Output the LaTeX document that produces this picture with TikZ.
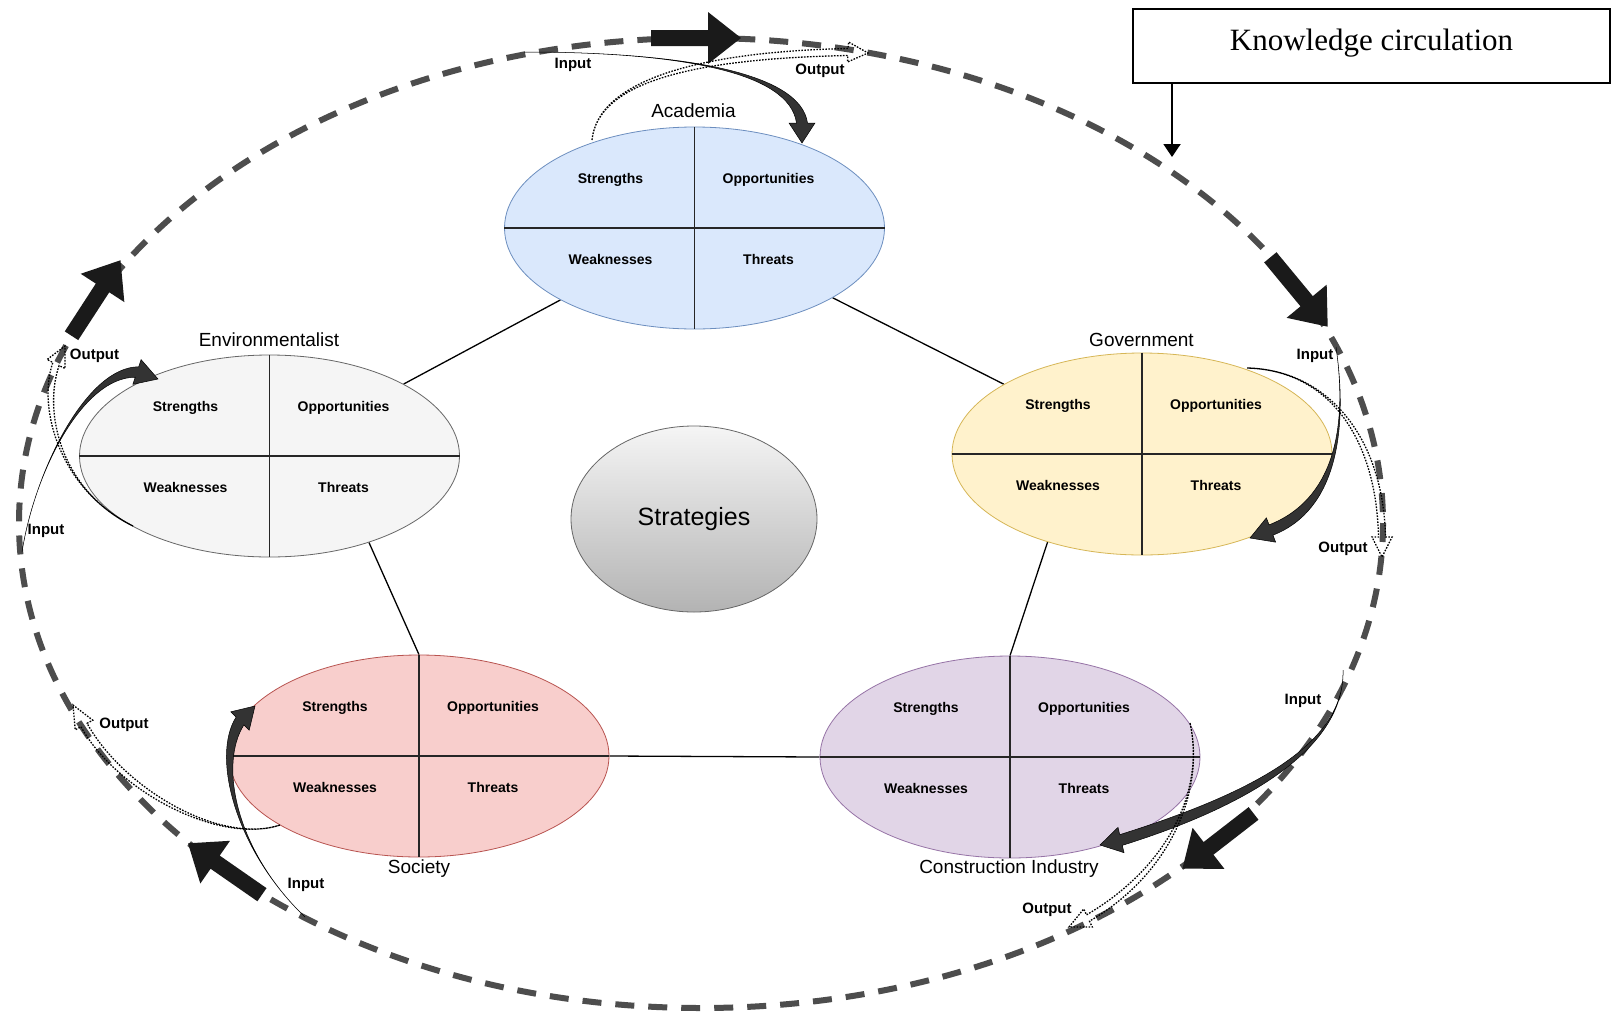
\documentclass[tikz,border=0pt]{standalone}
\usepackage{fontspec}
\setmainfont{Liberation Sans}
\newfontfamily\kcserif{Liberation Serif}
\usetikzlibrary{shapes.geometric,calc,arrows.meta,backgrounds}
\definecolor{acfill}{HTML}{DAE8FC}\definecolor{acdraw}{HTML}{6C8EBF}
\definecolor{enfill}{HTML}{F5F5F5}\definecolor{endraw}{HTML}{666666}
\definecolor{gofill}{HTML}{FFF2CC}\definecolor{godraw}{HTML}{D6B656}
\definecolor{sofill}{HTML}{F8CECC}\definecolor{sodraw}{HTML}{B85450}
\definecolor{cofill}{HTML}{E1D5E7}\definecolor{codraw}{HTML}{9673A6}
\definecolor{loopgray}{HTML}{4D4D4D}
\definecolor{kcblack}{HTML}{1A1A1A}
\definecolor{indark}{HTML}{333333}
\definecolor{stgtop}{HTML}{F5F5F5}\definecolor{stgbot}{HTML}{B3B3B3}
\tikzset{
  swot/.style={ellipse, minimum width=380pt, minimum height=202pt, inner sep=0pt, line width=0.8pt},
  divider/.style={line width=1.2pt, black!85},
  qlab/.style={font=\fontsize{14}{16}\selectfont\bfseries, inner sep=0pt},
  tlab/.style={font=\fontsize{19}{22}\selectfont, inner sep=0pt},
  iolab/.style={font=\fontsize{15}{17}\selectfont\bfseries, inner sep=0pt},
  pent/.style={line width=1.3pt, black},
  inarrow/.style={fill=indark, draw=black, line width=0.5pt},
  outarrow/.style={draw=black, dash pattern=on 1.6pt off 1.4pt, line width=1.3pt},
  blockarrow/.pic={\fill[kcblack] (-45,-8) -- (12,-8) -- (12,-26) -- (45,0) -- (12,26) -- (12,8) -- (-45,8) -- cycle;}
}
% tapered curved arrow: style, start, control1, control2, head base, tip, shaft half width, head half width
\newcommand{\kcArrow}[8]{%
  \coordinate (kcE) at (#5);
  \coordinate (kcT) at (#6);
  \coordinate (kcL) at ($(kcE)!#7!90:(kcT)$);
  \coordinate (kcR) at ($(kcE)!#7!-90:(kcT)$);
  \coordinate (kcHL) at ($(kcE)!#8!90:(kcT)$);
  \coordinate (kcHR) at ($(kcE)!#8!-90:(kcT)$);
  \draw[#1] (#2) .. controls (#3) and ($(#4)+(kcL)-(kcE)$) .. (kcL) -- (kcHL) -- (kcT) -- (kcHR) -- (kcR) .. controls ($(#4)+(kcR)-(kcE)$) and (#3) .. (#2) -- cycle;
}
\newcommand{\kcSwot}[5]{%
  \node[swot, fill=#4, draw=#5] (#1) at (#2,#3) {};
  \draw[divider] (#1.north) -- (#1.south);
  \draw[divider] (#1.west) -- (#1.east);
  \node[qlab] (#1-s) at ($(#1)+(-84,-48)$) {Strengths};
  \node[qlab] (#1-o) at ($(#1)+(74,-48)$) {Opportunities};
  \node[qlab] (#1-w) at ($(#1)+(-84,31)$) {Weaknesses};
  \node[qlab] (#1-t) at ($(#1)+(74,31)$) {Threats};
}
\begin{document}
\begin{tikzpicture}[x=1pt,y=-1pt]
\useasboundingbox (0,0) rectangle (1611,1012);

% knowledge circulation loop
\draw[loopgray, line width=6pt, dash pattern=on 19pt off 14pt] (701,523) ellipse [x radius=682, y radius=485];

% block arrows on the loop
\pic[rotate=0] at (696,38) {blockarrow};
\pic[rotate=-50.4] at (1299,292) {blockarrow};
\pic[rotate=-142.2] at (1218,841) {blockarrow};
\pic[rotate=145.2] at (225,869) {blockarrow};
\pic[rotate=57] at (96,298) {blockarrow};

% stakeholder SWOT ellipses
\kcSwot{A}{694.5}{228}{acfill}{acdraw}
\kcSwot{E}{269.5}{456}{enfill}{endraw}
\kcSwot{G}{1142}{454}{gofill}{godraw}
\kcSwot{S}{419}{756}{sofill}{sodraw}
\kcSwot{C}{1010}{757}{cofill}{codraw}

\node[tlab] (A-lab) at (693.5,111) {Academia};
\node[tlab] (E-lab) at (269,340) {Environmentalist};
\node[tlab] (G-lab) at (1141.5,340) {Government};
\node[tlab] (S-lab) at (419,869) {Society};
\node[tlab] (C-lab) at (1009,869) {Construction Industry};

% strategies
\node[ellipse, minimum width=246pt, minimum height=186pt, draw=endraw, line width=0.8pt,
      top color=stgtop, bottom color=stgbot, font=\fontsize{25}{28}\selectfont] (ST) at (694,519) {Strategies};

% background and pentagon connectors
\begin{scope}[on background layer]
\fill[white] (0,0) rectangle (1611,1012);
\draw[pent] (A) -- (E);
\draw[pent] (A) -- (G);
\draw[pent] (E.-41.7) -- (S.north);
\draw[pent] (G.-137) -- (C.north);
\draw[pent] (S.east) -- (C.west);
\end{scope}

% input / output arrows
\kcArrow{inarrow}{524,52}{680,52}{795,72}{802,123}{802,143}{5.5pt}{13pt}
\kcArrow{outarrow}{592,140}{598,80}{700,55}{848,52}{868,53}{3.5pt}{10pt}
\kcArrow{inarrow}{22,552}{35,470}{85,372}{137,372}{158,379}{5.5pt}{13pt}
\kcArrow{outarrow}{133,526}{60,490}{40,410}{56,364}{65,346}{3.5pt}{10pt}
\kcArrow{inarrow}{1336,347}{1348,430}{1335,505}{1271,530}{1250,538}{5.5pt}{13pt}
\kcArrow{outarrow}{1247,368}{1330,370}{1380,440}{1382,537}{1382,557}{3.5pt}{10pt}
\kcArrow{inarrow}{1343,670}{1345,740}{1265,795}{1121,840}{1100,845}{5.5pt}{13pt}
\kcArrow{outarrow}{1190,723}{1205,790}{1170,870}{1088,918}{1069,927}{3.5pt}{10pt}
\kcArrow{inarrow}{305,917}{235,850}{215,760}{240,721}{255,706}{5.5pt}{13pt}
\kcArrow{outarrow}{280,825}{220,845}{120,790}{84,725}{73,705}{3.5pt}{10pt}

\node[iolab] (A-in) at (573,65) {Input};
\node[iolab] (A-out) at (820,71) {Output};
\node[iolab] (E-out) at (94.5,355.5) {Output};
\node[iolab] (E-in) at (46,531) {Input};
\node[iolab] (G-in) at (1315,355.5) {Input};
\node[iolab] (G-out) at (1343,549) {Output};
\node[iolab] (C-in) at (1303,701) {Input};
\node[iolab] (C-out) at (1047,910) {Output};
\node[iolab] (S-out) at (124,725) {Output};
\node[iolab] (S-in) at (306,885) {Input};

% knowledge circulation box
\node[draw, line width=2pt, minimum width=477pt, minimum height=74pt, inner sep=0pt,
      text height=22pt, text depth=13pt, font=\kcserif\fontsize{31}{34}\selectfont] (KC) at (1371.5,46) {Knowledge circulation};
\coordinate (KCend) at (1172,157);
\draw[line width=2pt, -{Triangle[length=13pt,width=17pt]}] (KC.south -| KCend) -- (KCend);
\end{tikzpicture}
\end{document}
